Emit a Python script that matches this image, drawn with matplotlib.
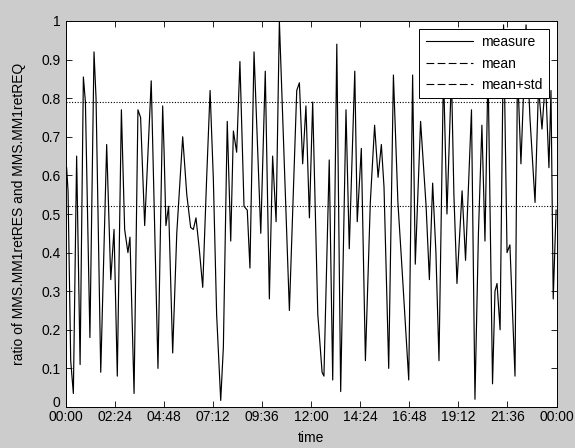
import matplotlib
matplotlib.use("Agg")
import matplotlib.pyplot as plt
import matplotlib.transforms as mtransforms
from matplotlib.lines import Line2D
from matplotlib.ticker import FuncFormatter

# time of day in hours, and measured ratio
hours = [0.03, 0.10, 0.23, 0.36, 0.52, 0.69, 0.85, 0.95, 1.17, 1.37, 1.47, 1.70,
         1.99, 2.19, 2.35, 2.51, 2.71, 2.87, 3.03, 3.13, 3.33, 3.52, 3.65, 3.85,
         4.17, 4.50, 4.73, 4.80, 4.89, 5.02, 5.22, 5.42, 5.71, 5.91, 6.10, 6.23,
         6.36, 6.52, 6.69, 6.88, 7.05, 7.21, 7.37, 7.57, 7.70, 7.89, 8.06, 8.19,
         8.35, 8.51, 8.71, 8.87, 9.00, 9.20, 9.53, 9.75, 9.95, 10.11, 10.28, 10.44,
         10.70, 10.93, 11.29, 11.42, 11.58, 11.74, 11.91, 12.07, 12.32, 12.53, 12.62,
         12.88, 13.05, 13.25, 13.44, 13.70, 13.86, 14.13, 14.25, 14.45, 14.65, 14.89,
         15.10, 15.27, 15.43, 15.56, 15.79, 16.02, 16.24, 16.44, 16.77, 16.96, 17.09,
         17.35, 17.62, 17.78, 17.94, 18.10, 18.25, 18.47, 18.64, 18.86, 18.98, 19.13,
         19.38, 19.55, 19.84, 20.01, 20.18, 20.35, 20.50, 20.65, 20.87, 20.99, 21.09,
         21.24, 21.41, 21.58, 21.72, 21.97, 22.09, 22.26, 22.51, 22.70, 22.95, 23.12,
         23.29, 23.46, 23.63, 23.73, 23.84, 23.98]
ratio = [0.62, 0.56, 0.12, 0.035, 0.65, 0.11, 0.855, 0.79, 0.18, 0.92, 0.80, 0.09,
         0.68, 0.33, 0.46, 0.08, 0.77, 0.46, 0.40, 0.44, 0.035, 0.77, 0.75, 0.47,
         0.845, 0.10, 0.78, 0.66, 0.47, 0.52, 0.14, 0.45, 0.70, 0.55, 0.465, 0.46,
         0.49, 0.41, 0.31, 0.59, 0.82, 0.59, 0.24, 0.017, 0.155, 0.74, 0.43, 0.715,
         0.66, 0.895, 0.52, 0.51, 0.36, 0.92, 0.45, 0.87, 0.28, 0.65, 0.48, 1.0,
         0.60, 0.25, 0.82, 0.84, 0.63, 0.78, 0.49, 0.79, 0.24, 0.09, 0.08,
         0.64, 0.07, 0.94, 0.04, 0.77, 0.41, 0.87, 0.48, 0.67, 0.12, 0.53,
         0.73, 0.595, 0.68, 0.57, 0.10, 0.86, 0.53, 0.36, 0.07, 0.86, 0.37,
         0.74, 0.52, 0.33, 0.58, 0.40, 0.12, 0.87, 0.50, 0.86, 0.55, 0.32,
         0.56, 0.38, 0.77, 0.02, 0.45, 0.73, 0.43, 0.88, 0.06, 0.30, 0.32,
         0.20, 0.99, 0.40, 0.42, 0.08, 0.88, 0.63, 0.99, 0.75, 0.53, 0.83,
         0.72, 0.85, 0.62, 0.82, 0.28, 0.51]
mean_value = 0.52
mean_plus_std = 0.789

tick_hours = [0, 2.4, 4.8, 7.2, 9.6, 12.0, 14.4, 16.8, 19.2, 21.6, 24.0]
y_ticks = [0, 0.1, 0.2, 0.3, 0.4, 0.5, 0.6, 0.7, 0.8, 0.9, 1.0]

plt.rcParams['font.family'] = ['Liberation Sans', 'DejaVu Sans']

fig = plt.figure(figsize=(5.75, 4.48), dpi=100, facecolor='#cccccc')
ax = fig.add_axes([66/575, 1-407/448, (556.5-66)/575, (407-21)/448])
ax.set_facecolor('white')

ax.plot(hours, ratio, color='black', lw=0.85, zorder=2)
ax.axhline(mean_value, color='black', lw=0.8, ls=(0, (1, 1.5)), zorder=1)
ax.axhline(mean_plus_std, color='black', lw=0.8, ls=(0, (1, 1.5)), zorder=1)

ax.set_xlim(0, 24)
ax.set_ylim(0, 1)
ax.set_xticks(tick_hours)
ax.xaxis.set_major_formatter(FuncFormatter(
    lambda v, p: "%02d:%02d" % (int(round(v*60)) // 60 % 24, int(round(v*60)) % 60)))
ax.set_yticks(y_ticks)
ax.yaxis.set_major_formatter(FuncFormatter(lambda v, p: ("%g" % round(v, 1))))
ax.tick_params(direction='in', top=True, right=True, length=4, width=0.6,
               labelsize=10, colors='black')
ax.tick_params(axis='x', pad=2)
ax.tick_params(axis='y', pad=4)
for s in ax.spines.values():
    s.set_linewidth(0.7)

# lift the "0" y label slightly, as in the reference
fig.canvas.draw()
zero_lbl = ax.get_yticklabels()[0]
zero_lbl.set_transform(zero_lbl.get_transform() +
                       mtransforms.ScaledTranslation(0, 4/72, fig.dpi_scale_trans))

ax.set_xlabel('time', fontsize=10, labelpad=5)
ax.set_ylabel('ratio of MMS.MM1retRES and MMS.MM1retREQ', fontsize=10, labelpad=11)

handles = [Line2D([], [], color='black', lw=0.8, ls='-'),
           Line2D([], [], color='black', lw=0.8, ls=(0, (7, 3))),
           Line2D([], [], color='black', lw=0.8, ls=(0, (7, 3)))]
leg = ax.legend(handles, ['measure', 'mean', 'mean+std'], loc='upper right',
                fontsize=10, fancybox=False, framealpha=1, edgecolor='black',
                borderaxespad=0.55, handlelength=3.4, labelspacing=0.55,
                borderpad=0.45, handletextpad=0.6)
leg.get_frame().set_linewidth(0.7)
leg.set_zorder(5)

fig.savefig('out.png', dpi=100, facecolor=fig.get_facecolor())
